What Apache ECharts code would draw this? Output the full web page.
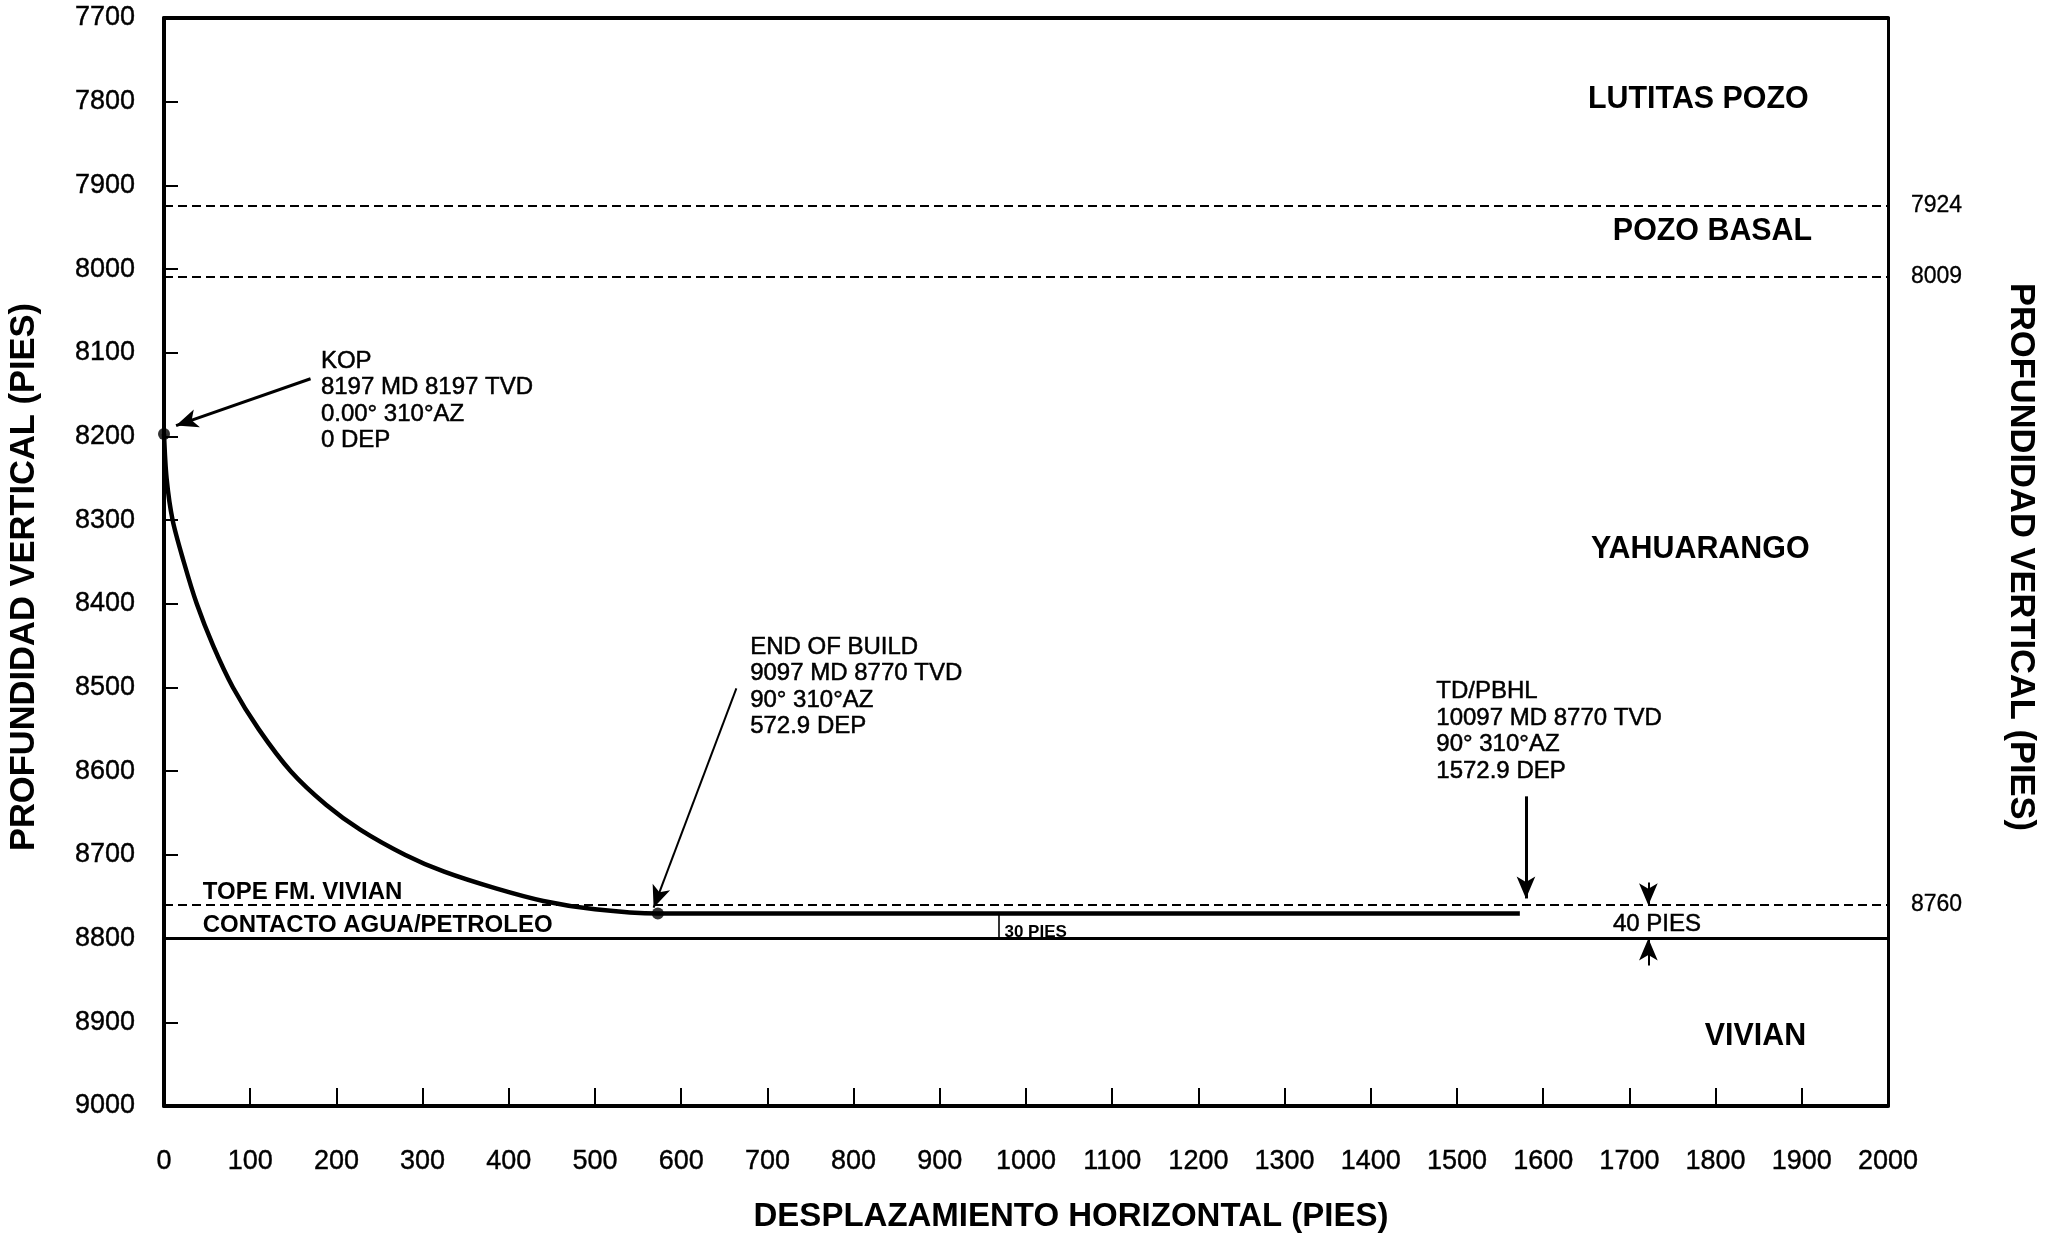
<!DOCTYPE html>
<html>
<head>
<meta charset="utf-8">
<script src="https://cdn.jsdelivr.net/npm/echarts@6/dist/echarts.min.js"></script>
<style>
html,body{margin:0;padding:0;background:#fff;}
#chart{width:2056px;height:1238px;}
</style>
</head>
<body>
<div id="chart"></div>
<script>
// ---------------- DATA ----------------
const xTickStep = 100;            // horizontal displacement ticks (ft)
const yTickStep = 100;            // vertical depth ticks (ft)
const depRange = [0, 2000];
const tvdRange = [7700, 9000];

// Build section: departure (ft) and TVD (ft)
const buildDep = [0, 3, 10, 23, 38, 57, 80, 110, 147, 188, 228, 280, 325, 385, 440, 500, 572.9];
const buildTvd = [8197, 8250, 8300, 8350, 8400, 8450, 8500, 8550, 8600, 8640, 8670, 8700, 8720, 8740, 8755, 8765, 8770];
// Lateral section
const lateralDep = [572.9, 1572.9];
const lateralTvd = [8770, 8770];

// Stations
const stationNames = ['KOP', 'END OF BUILD', 'TD/PBHL'];
const stationDep = [0, 572.9, 1572.9];
const stationTvd = [8197, 8770, 8770];

// Formation tops (dashed) and oil/water contact (solid)
const topsTvd = [7924, 8009, 8760];
const owcTvd = 8800;

// Formation names
const formations = ['LUTITAS POZO', 'POZO BASAL', 'YAHUARANGO', 'VIVIAN'];

// Annotation texts
const kopText = ['KOP', '8197 MD 8197 TVD', '0.00° 310°AZ', '0 DEP'];
const eobText = ['END OF BUILD', '9097 MD 8770 TVD', '90° 310°AZ', '572.9 DEP'];
const tdText = ['TD/PBHL', '10097 MD 8770 TVD', '90° 310°AZ', '1572.9 DEP'];
const thicknessText = ['30 PIES', '40 PIES'];
const zoneText = ['TOPE FM. VIVIAN', 'CONTACTO AGUA/PETROLEO'];
const xTitle = 'DESPLAZAMIENTO HORIZONTAL (PIES)';
const yTitle = 'PROFUNDIDAD VERTICAL (PIES)';

// ---------------- LAYOUT (positions in data units) ----------------
const layout = {
  kopArrow: [[170, 8131], [14, 8187]],
  eobArrow: [[664, 8501], [568, 8763]],
  tdArrow: [[1580, 8630], [1580, 8752]],
  fortyDown: [[1722, 8733], [1722, 8760]],
  fortyUp: [[1722, 8832], [1722, 8800]],
  thirtyTick: [[968, 8770], [968, 8800]],
  kopTextAt: [182, 8094],
  eobTextAt: [680, 8436],
  tdTextAt: [1476, 8489],
  formationAt: [[1908, 7797], [1912, 7955], [1909, 8335], [1905, 8916]],
  zoneTextAt: [[45, 8745], [45, 8784]],
  thirtyAt: [975, 8792],
  fortyAt: [1732, 8783]
};

const FONT = "'Liberation Sans', Arial, Helvetica, sans-serif";

const pathData = buildDep.map((d, i) => [d, buildTvd[i]])
  .concat(lateralDep.slice(1).map((d, i) => [d, lateralTvd[i + 1]]));
const stationData = stationDep.slice(0, 2).map((d, i) => [d, stationTvd[i]]);

function arrowLine(pair, w) {
  return [{ coord: pair[0], symbol: 'none' }, { coord: pair[1], symbol: 'arrow', lineStyle: { width: w } }];
}
const plain = v => String(v);

const chart = echarts.init(document.getElementById('chart'), null, { renderer: 'canvas' });

const tickLabel = { show: true, fontSize: 27, color: '#000', fontFamily: FONT, formatter: plain,
  textBorderColor: '#000', textBorderWidth: 0.4 };

const option = {
  animation: false,
  backgroundColor: '#ffffff',
  grid: { left: 164, right: 168, top: 18, bottom: 132, containLabel: false, outerBoundsMode: 'none' },
  xAxis: [{
    type: 'value', min: depRange[0], max: depRange[1], interval: xTickStep, position: 'bottom',
    axisLine: { show: true, onZero: false, lineStyle: { color: '#000', width: 4 } },
    axisTick: { show: true, inside: true, length: 18, lineStyle: { color: '#000', width: 2 } },
    axisLabel: Object.assign({ margin: 42 }, tickLabel),
    splitLine: { show: false }
  }, {
    type: 'value', min: depRange[0], max: depRange[1], interval: xTickStep, position: 'top',
    axisLine: { show: true, onZero: false, lineStyle: { color: '#000', width: 4 } },
    axisTick: { show: false }, axisLabel: { show: false }, splitLine: { show: false }
  }],
  yAxis: [{
    type: 'value', min: tvdRange[0], max: tvdRange[1], interval: yTickStep, inverse: true, position: 'left',
    axisLine: { show: true, onZero: false, lineStyle: { color: '#000', width: 4 } },
    axisTick: { show: true, inside: true, length: 14, lineStyle: { color: '#000', width: 2 } },
    axisLabel: Object.assign({ margin: 29 }, tickLabel),
    splitLine: { show: false }
  }, {
    type: 'value', min: tvdRange[0], max: tvdRange[1], interval: yTickStep, inverse: true, position: 'right',
    axisLine: { show: true, onZero: false, lineStyle: { color: '#000', width: 3 } },
    axisTick: { show: false }, axisLabel: { show: false }, splitLine: { show: false }
  }],
  series: [
    {
      name: 'horizons', type: 'line', data: [], silent: true,
      markLine: {
        silent: true, symbol: ['none', 'none'], animation: false,
        label: { show: true, position: 'end', distance: 23, formatter: '{c}', color: '#000', fontSize: 23, fontFamily: FONT,
          textBorderColor: '#000', textBorderWidth: 0.3 },
        lineStyle: { color: '#000', type: [9, 5], width: 2.2 },
        data: topsTvd.map(v => ({ yAxis: v })).concat([
          { yAxis: owcTvd, label: { show: false }, lineStyle: { type: 'solid', width: 3, color: '#000' } }
        ])
      }
    },
    {
      name: 'trayectoria', type: 'line', data: pathData, showSymbol: false,
      smooth: 0.3,
      lineStyle: { color: '#000', width: 4.5 }, silent: true
    },
    {
      name: 'estaciones', type: 'scatter', data: stationData, symbolSize: 12,
      itemStyle: { color: '#000' }, silent: true, z: 5
    },
    {
      name: 'anotaciones', type: 'line', data: [], silent: true,
      markLine: {
        silent: true, animation: false, symbolSize: [14, 22],
        label: { show: false },
        lineStyle: { color: '#000', type: 'solid', width: 2.4 },
        data: [
          arrowLine(layout.kopArrow, 3),
          arrowLine(layout.eobArrow, 2),
          arrowLine(layout.tdArrow, 3),
          arrowLine(layout.fortyDown, 2),
          arrowLine(layout.fortyUp, 2),
          [{ coord: layout.thirtyTick[0], symbol: 'none' }, { coord: layout.thirtyTick[1], symbol: 'none', lineStyle: { width: 1.6 } }]
        ]
      }
    }
  ]
};
chart.setOption(option);

// Place annotation texts using the chart's own scale
function px(p) { return chart.convertToPixel({ gridIndex: 0 }, p); }
const g = [];
function addText(at, lines, opts, extra) {
  const p = px(at);
  g.push(Object.assign({
    type: 'text', x: p[0], y: p[1], silent: true,
    style: Object.assign({
      text: Array.isArray(lines) ? lines.join('\n') : lines,
      fill: '#000', stroke: '#000', lineWidth: 0.5, fontFamily: FONT, fontSize: 24, lineHeight: 26.5,
      align: 'left', verticalAlign: 'top'
    }, opts || {})
  }, extra || {}));
}
addText(layout.kopTextAt, kopText);
addText(layout.eobTextAt, eobText);
addText(layout.tdTextAt, tdText);
formations.forEach((f, i) => addText(layout.formationAt[i], f, {
  fontSize: 32, fontWeight: 'bold', align: 'right', verticalAlign: 'middle', lineWidth: 0
}, { scaleX: 0.95 }));
zoneText.forEach((t, i) => addText(layout.zoneTextAt[i], t, {
  fontSize: 24, fontWeight: 'bold', verticalAlign: 'middle', lineWidth: 0
}));
addText(layout.thirtyAt, thicknessText[0], { fontSize: 17, fontWeight: 'bold', verticalAlign: 'middle', lineWidth: 0 });
addText(layout.fortyAt, thicknessText[1], { fontSize: 24, align: 'center', verticalAlign: 'middle' });

// Axis titles
const titleStyle = { fill: '#000', fontFamily: FONT, fontWeight: 'bold', align: 'center', verticalAlign: 'middle' };
g.push({ type: 'text', x: 1071, y: 1217, silent: true,
  style: Object.assign({ text: xTitle, fontSize: 33 }, titleStyle) });
g.push({ type: 'text', x: 24, y: 577, rotation: Math.PI / 2, silent: true,
  style: Object.assign({ text: yTitle, fontSize: 34.5 }, titleStyle) });
g.push({ type: 'text', x: 2021, y: 557, rotation: -Math.PI / 2, silent: true,
  style: Object.assign({ text: yTitle, fontSize: 34.5 }, titleStyle) });

chart.setOption({ graphic: g });
</script>
</body>
</html>
